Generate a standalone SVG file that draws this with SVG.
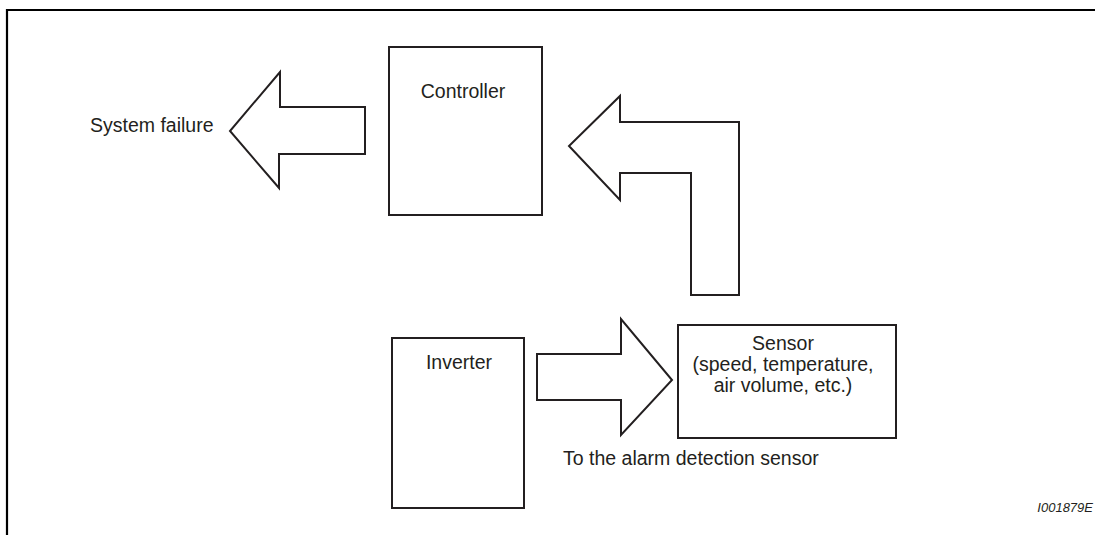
<svg xmlns="http://www.w3.org/2000/svg" width="1095" height="535" viewBox="0 0 1095 535">
<style>
.box{fill:#fff;stroke:#231f20;stroke-width:2}
.arrow{fill:#fff;stroke:#231f20;stroke-width:2;stroke-linejoin:miter}
.frame{fill:none;stroke:#000;stroke-width:2.2}
text{font-family:"Liberation Sans",Arial,sans-serif;font-size:19.5px;fill:#231f20}
.mid{text-anchor:middle}
.code{font-size:13px;font-style:italic}
</style>
<rect width="1095" height="535" fill="#fff"/>
<path class="frame" d="M7,535 V10 H1095"/>
<g id="connectors">
<path id="arrow-failure" class="arrow" d="M365,107 H280 V72 L230,131 L279,188 V154 H365 Z"/>
<path id="arrow-feedback" class="arrow" d="M739,295 V122 H620 V96 L569,146 L620,200 V173 H691 V295 Z"/>
<path id="arrow-detect" class="arrow" d="M537,354 H621 V319 L672,380 L621,435 V400 H537 Z"/>
</g>
<g id="controller">
<rect class="box" x="389" y="47" width="153" height="168"/>
<text class="mid" x="463" y="98">Controller</text>
</g>
<g id="inverter">
<rect class="box" x="392" y="338" width="132" height="170"/>
<text class="mid" x="459" y="369">Inverter</text>
</g>
<g id="sensor">
<rect class="box" x="678" y="325" width="218" height="113"/>
<text class="mid" x="783" y="350">Sensor</text>
<text class="mid" x="783" y="371">(speed, temperature,</text>
<text class="mid" x="783" y="392">air volume, etc.)</text>
</g>
<g id="label-failure"><text x="90" y="132">System failure</text></g>
<g id="label-detect"><text x="563" y="465">To the alarm detection sensor</text></g>
<text class="code" x="1093" y="512" text-anchor="end">I001879E</text>
</svg>
